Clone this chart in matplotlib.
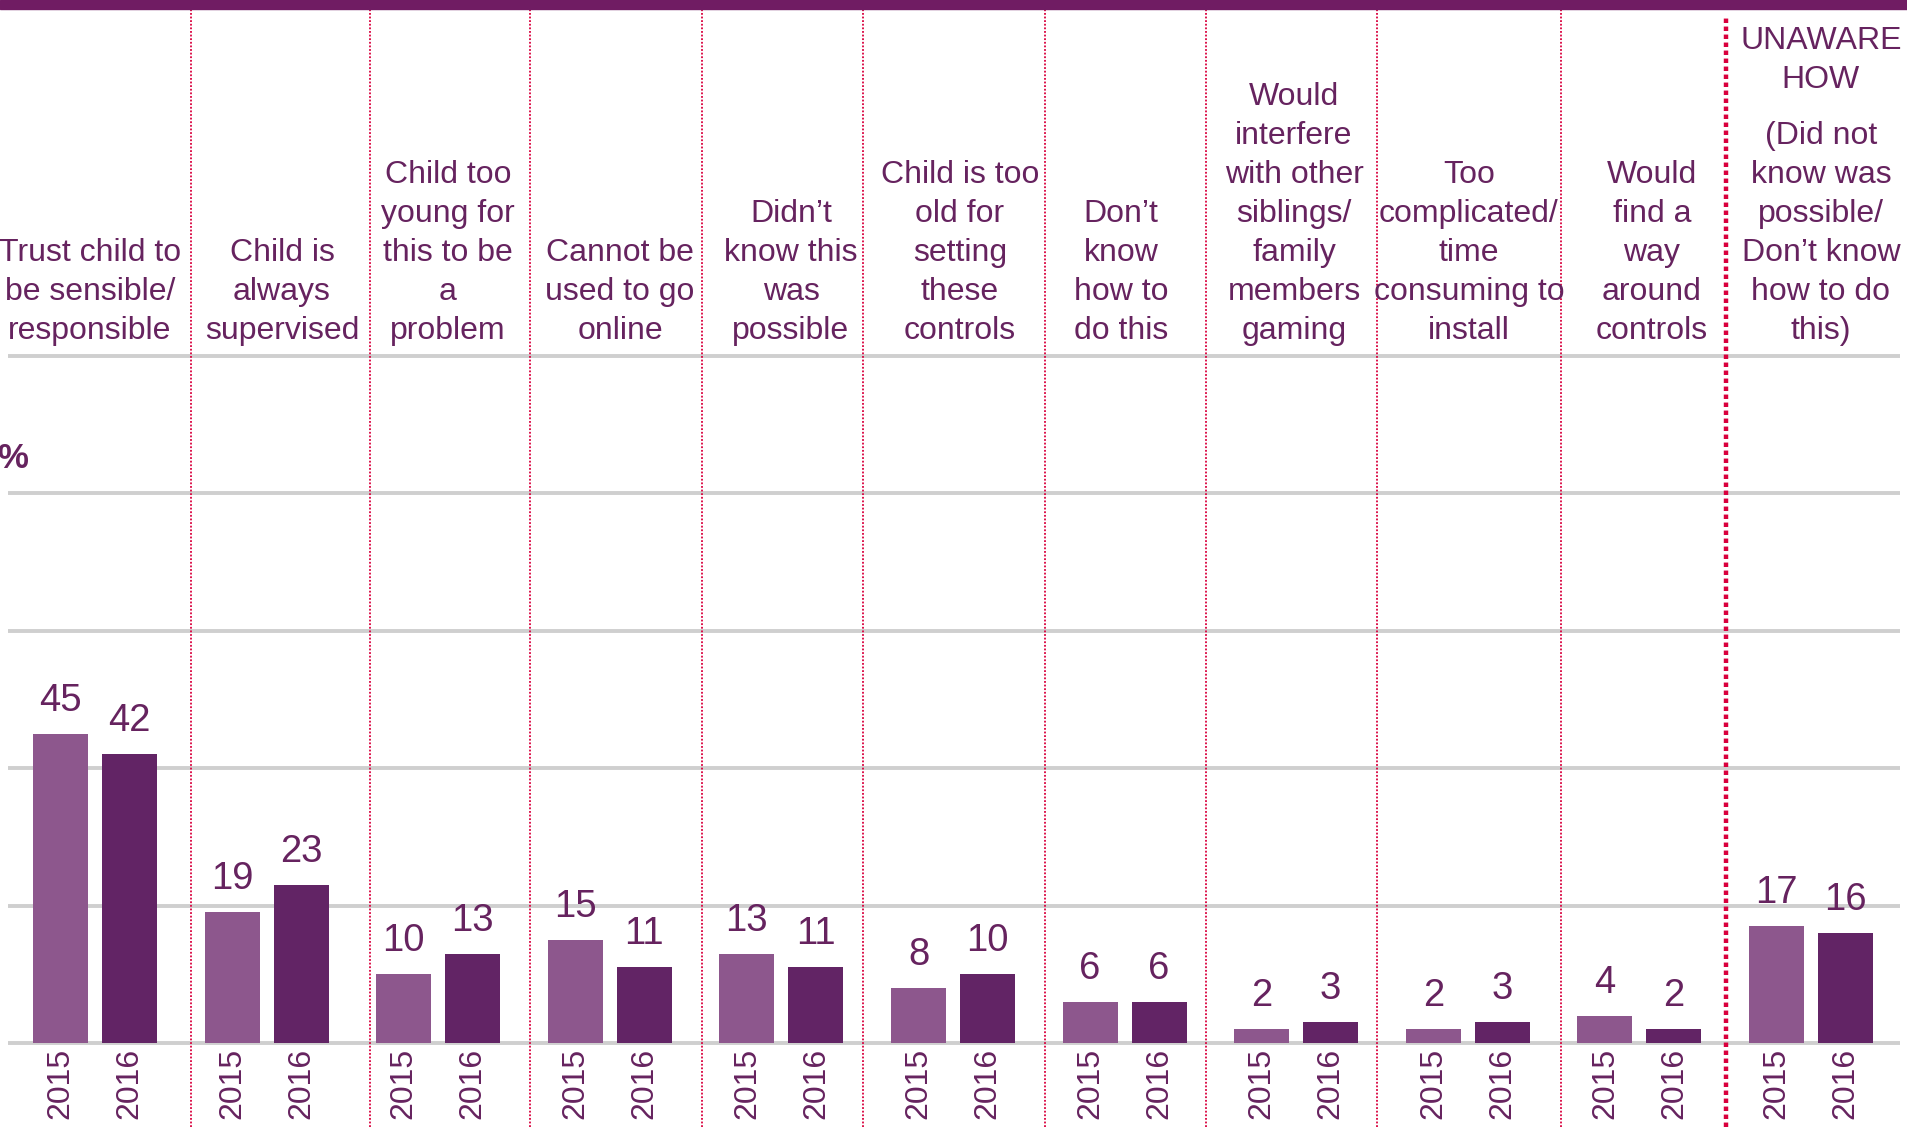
import matplotlib
matplotlib.use('Agg')
import matplotlib.pyplot as plt
from matplotlib.patches import Rectangle
import numpy as np

plt.rcParams['font.family'] = ['Liberation Sans', 'DejaVu Sans']

# data
labels = [
    "Trust child to\nbe sensible/\nresponsible",
    "Child is\nalways\nsupervised",
    "Child too\nyoung for\nthis to be\na\nproblem",
    "Cannot be\nused to go\nonline",
    "Didn\u2019t\nknow this\nwas\npossible",
    "Child is too\nold for\nsetting\nthese\ncontrols",
    "Don\u2019t\nknow\nhow to\ndo this",
    "Would\ninterfere\nwith other\nsiblings/\nfamily\nmembers\ngaming",
    "Too\ncomplicated/\ntime\nconsuming to\ninstall",
    "Would\nfind a\nway\naround\ncontrols",
    "(Did not\nknow was\npossible/\nDon\u2019t know\nhow to do\nthis)",
]
unaware_title = "UNAWARE\nHOW"
v2015 = [45, 19, 10, 15, 13, 8, 6, 2, 2, 4, 17]
v2016 = [42, 23, 13, 11, 11, 10, 6, 3, 3, 2, 16]
years = ['2015', '2016']
grid_vals = [0, 20, 40, 60, 80, 100]

txt = '#66235F'
c15 = '#8D578D'
c16 = '#622465'
red = '#D9003D'

W, H = 1907, 1127
fig = plt.figure(figsize=(W / 100, H / 100), dpi=100)
ax = fig.add_axes([0, 0, 1, 1])
ax.axis('off')

# pixel layout -> data units
x0, dx = 95, 171.6     # first group centre, group spacing (px)
y0, dy = 1043, 6.87    # baseline (px), px per percent
ax.set_xlim(-x0 / dx, (W - x0) / dx)
ax.set_ylim(-(H - y0) / dy, y0 / dy)

def px_x(p):
    return (p - x0) / dx

def px_y(p):
    return (y0 - p) / dy

x = np.arange(len(v2015))
bw = 55 / dx
off = 34.5 / dx

# gridlines
ax.hlines(grid_vals, px_x(8), px_x(1900), color='#cfcfcf', lw=2.8, zorder=0)

ax.bar(x - off, v2015, bw, color=c15, zorder=2)
ax.bar(x + off, v2016, bw, color=c16, zorder=2)

for xi, a, b in zip(x, v2015, v2016):
    ax.text(xi - off, a + 23 / dy, str(a), ha='center', va='baseline',
            fontsize=27.5, color=txt)
    ax.text(xi + off, b + 23 / dy, str(b), ha='center', va='baseline',
            fontsize=27.5, color=txt)
    ax.text(xi - off, -5 / dy, years[0], rotation=90, ha='center', va='top',
            fontsize=23, color=txt)
    ax.text(xi + off, -5 / dy, years[1], rotation=90, ha='center', va='top',
            fontsize=23, color=txt)

# separators
sep_px = [191, 370, 530, 702, 863, 1045, 1206, 1377, 1561]
for s in sep_px:
    ax.plot([px_x(s), px_x(s)], [px_y(1127), px_y(9)], color=red, lw=1.3,
            ls=(0, (1, 1)), zorder=3)
ax.plot([px_x(1726), px_x(1726)], [px_y(1127), px_y(17)], color=red, lw=3.2,
        ls=(0, (1, 0.8)), zorder=3)

# header labels
head_px = [90, 282, 448, 620, 791, 960, 1121, 1294, 1469, 1652, 1821]
base = px_y(339)
lsp = 39 / dy
for i, lab in enumerate(labels):
    cx = px_x(head_px[i])
    lines = lab.split('\n')
    n = len(lines)
    for k, line in enumerate(lines):
        ax.text(cx, base + (n - 1 - k) * lsp, line, ha='center', va='baseline',
                fontsize=23, color=txt)
    if i == len(labels) - 1:
        tl = unaware_title.split('\n')
        top = base + (n - 1) * lsp + 56 / dy
        for k, line in enumerate(tl):
            ax.text(cx, top + (len(tl) - 1 - k) * lsp, line, ha='center',
                    va='baseline', fontsize=23, color=txt)

ax.text(px_x(-3), px_y(468), '%', ha='left', va='baseline', fontsize=25,
        fontweight='bold', color=txt)

fig.add_artist(Rectangle((0, 1 - 9 / H), 1, 9 / H, transform=fig.transFigure,
                         color='#701C63'))

plt.savefig('out.png', dpi=100)
